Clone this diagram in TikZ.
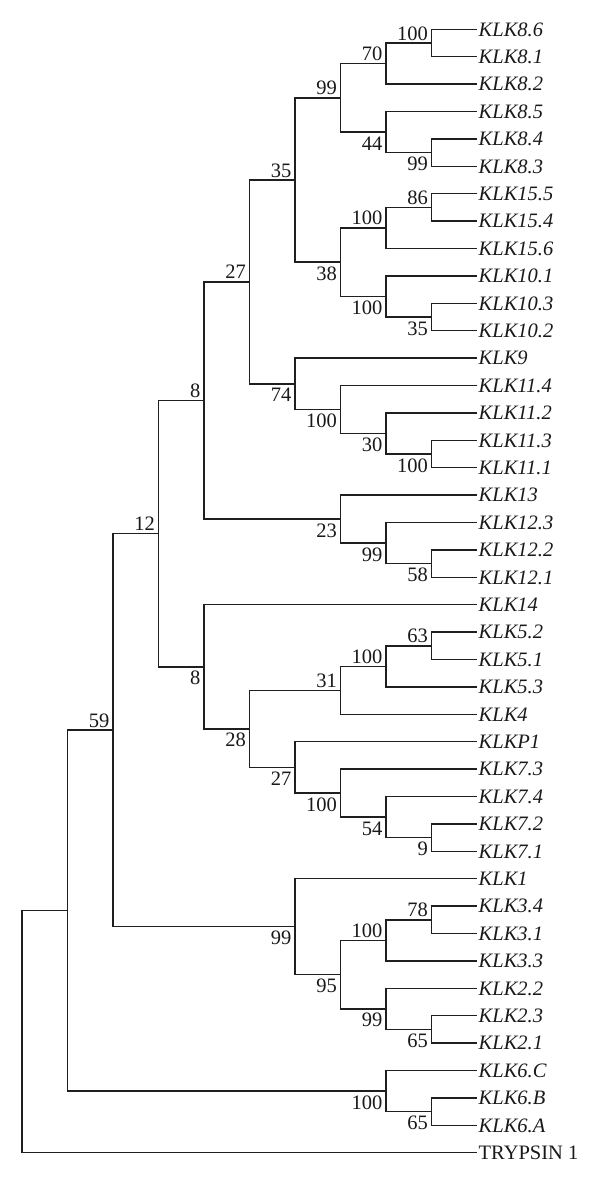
\documentclass[tikz,border=0pt]{standalone}
\usepackage{fontspec}
\setmainfont{Liberation Serif}
\usetikzlibrary{calc}
\newcommand\phynode[6]{%
  \path ($(#2)!.5!(#3)$) coordinate (#1m);
  \coordinate (#1) at (#1m -| c#4);
  \draw[branch] (#2) -| (#1) |- (#3);
  \node[bs#6] (#1lab) at (#1) {#5};
}
\begin{document}
\begin{tikzpicture}[x=1pt,y=-1pt,
  branch/.style={line width=1.5pt,color=black!88},
  every node/.style={font=\fontsize{20.5}{24}\selectfont,inner sep=0pt,text=black!90},
  leaf/.style={anchor=base west,xshift=1.5pt,yshift=-6.8pt},
  bsa/.style={anchor=base east,xshift=-3.5pt,yshift=3pt},
  bsb/.style={anchor=base east,xshift=-3.5pt,yshift=-18pt}]
\useasboundingbox (0,0) rectangle (600,1179);
\foreach \h in {0,...,10} \coordinate (c\h) at ({477-45.5*\h},0);
\foreach \n [count=\i from 0] in {KLK8.6,KLK8.1,KLK8.2,KLK8.5,KLK8.4,KLK8.3,KLK15.5,KLK15.4,KLK15.6,KLK10.1,KLK10.3,KLK10.2,KLK9,KLK11.4,KLK11.2,KLK11.3,KLK11.1,KLK13,KLK12.3,KLK12.2,KLK12.1,KLK14,KLK5.2,KLK5.1,KLK5.3,KLK4,KLKP1,KLK7.3,KLK7.4,KLK7.2,KLK7.1,KLK1,KLK3.4,KLK3.1,KLK3.3,KLK2.2,KLK2.3,KLK2.1,KLK6.C,KLK6.B,KLK6.A} {
  \coordinate (l\i) at (477,{29.3+27.4*\i});
  \node[leaf] (t\i) at (l\i) {\textit{\n}};
}
\coordinate (l41) at (477,{29.3+27.4*41});
\node[leaf] (t41) at (l41) {TRYPSIN 1};
\phynode{n100a}{l0}{l1}{1}{100}{a}
\phynode{n70}{n100a}{l2}{2}{70}{a}
\phynode{n99b}{l4}{l5}{1}{99}{b}
\phynode{n44}{l3}{n99b}{2}{44}{b}
\phynode{n99a}{n70}{n44}{3}{99}{a}
\phynode{n86}{l6}{l7}{1}{86}{a}
\phynode{n100b}{n86}{l8}{2}{100}{a}
\phynode{n35b}{l10}{l11}{1}{35}{b}
\phynode{n100c}{l9}{n35b}{2}{100}{b}
\phynode{n38}{n100b}{n100c}{3}{38}{b}
\phynode{n35}{n99a}{n38}{4}{35}{a}
\phynode{n100d}{l15}{l16}{1}{100}{b}
\phynode{n30}{l14}{n100d}{2}{30}{b}
\phynode{n100e}{l13}{n30}{3}{100}{b}
\phynode{n74}{l12}{n100e}{4}{74}{b}
\phynode{n27}{n35}{n74}{5}{27}{a}
\phynode{n58}{l19}{l20}{1}{58}{b}
\phynode{n99c}{l18}{n58}{2}{99}{b}
\phynode{n23}{l17}{n99c}{3}{23}{b}
\phynode{n8a}{n27}{n23}{6}{8}{a}
\phynode{n63}{l22}{l23}{1}{63}{a}
\phynode{n100f}{n63}{l24}{2}{100}{a}
\phynode{n31}{n100f}{l25}{3}{31}{a}
\phynode{n9}{l29}{l30}{1}{9}{b}
\phynode{n54}{l28}{n9}{2}{54}{b}
\phynode{n100g}{l27}{n54}{3}{100}{b}
\phynode{n27b}{l26}{n100g}{4}{27}{b}
\phynode{n28}{n31}{n27b}{5}{28}{b}
\phynode{n8b}{l21}{n28}{6}{8}{b}
\phynode{n12}{n8a}{n8b}{7}{12}{a}
\phynode{n78}{l32}{l33}{1}{78}{a}
\phynode{n100h}{n78}{l34}{2}{100}{a}
\phynode{n65a}{l36}{l37}{1}{65}{b}
\phynode{n99d}{l35}{n65a}{2}{99}{b}
\phynode{n95}{n100h}{n99d}{3}{95}{b}
\phynode{n99e}{l31}{n95}{4}{99}{b}
\phynode{n59}{n12}{n99e}{8}{59}{a}
\phynode{n65b}{l39}{l40}{1}{65}{b}
\phynode{n100i}{l38}{n65b}{2}{100}{b}
\path ($(n59)!.5!(n100i)$) coordinate (Am);
\coordinate (A) at (Am -| c9);
\draw[branch] (n59) -| (A) |- (n100i);
\path ($(A)!.5!(l41)$) coordinate (Rm);
\coordinate (R) at (Rm -| c10);
\draw[branch] (A) -| (R) |- (l41);
\end{tikzpicture}
\end{document}
